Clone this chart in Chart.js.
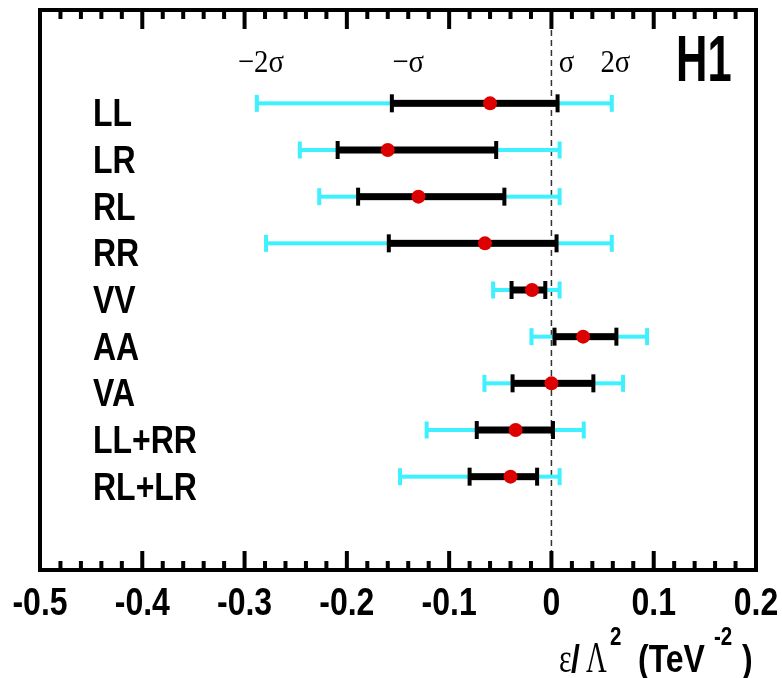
<!DOCTYPE html>
<html>
<head>
<meta charset="utf-8">
<script src="https://cdn.jsdelivr.net/npm/chart.js@4"></script>
<style>
  html, body { margin: 0; padding: 0; background: #fff; }
  #wrap { width: 782px; height: 678px; }
</style>
</head>
<body>
<div id="wrap"><canvas id="chart" width="782" height="678"></canvas></div>
<script>
// coupling types, top to bottom
const labels = ['LL', 'LR', 'RL', 'RR', 'VV', 'AA', 'VA', 'LL+RR', 'RL+LR'];
// central value of eps/Lambda^2 (TeV^-2)
const central = [-0.060, -0.160, -0.130, -0.065, -0.019, 0.031, 0.000, -0.035, -0.040];
// 1 sigma interval (black)
const lo1 = [-0.156, -0.209, -0.189, -0.159, -0.039, 0.003, -0.038, -0.073, -0.080];
const hi1 = [0.006, -0.054, -0.046, 0.005, -0.006, 0.0635, 0.041, 0.0015, -0.014];
// 2 sigma interval (cyan)
const lo2 = [-0.288, -0.246, -0.227, -0.279, -0.057, -0.0195, -0.0655, -0.122, -0.148];
const hi2 = [0.059, 0.008, 0.008, 0.059, 0.008, 0.0935, 0.070, 0.0316, 0.008];
// sigma annotations along the top
const sigmaText = ['\u22122\u03c3', '\u2212\u03c3', '\u03c3', '2\u03c3'];
const sigmaAt = [-0.284, -0.140, 0.0147, 0.0625];

const CYAN = '#3ff0ff';
const RED = '#dd0000';
const SANS = '"Liberation Sans", Arial, sans-serif';
const SERIF = '"Liberation Serif", "Times New Roman", serif';

function txt(ctx, s, x, y, font, sx, align) {
  ctx.save();
  ctx.font = font;
  ctx.fillStyle = '#000';
  ctx.textAlign = align || 'left';
  ctx.textBaseline = 'alphabetic';
  ctx.translate(x, y);
  ctx.scale(sx, 1);
  ctx.fillText(s, 0, 0);
  ctx.restore();
}

const errorBars = {
  id: 'errorBars',
  beforeDatasetsDraw(chart) {
    const { ctx, chartArea: a, scales: { x, y } } = chart;
    ctx.save();
    // dashed zero line
    ctx.strokeStyle = '#333';
    ctx.lineWidth = 1.5;
    ctx.setLineDash([6, 4]);
    ctx.beginPath();
    ctx.moveTo(x.getPixelForValue(0), a.top + 20);
    ctx.lineTo(x.getPixelForValue(0), a.bottom);
    ctx.stroke();
    ctx.setLineDash([]);

    const bar = (lo, hi, yy, color, lw, capH) => {
      const x0 = x.getPixelForValue(lo), x1 = x.getPixelForValue(hi);
      ctx.fillStyle = color;
      ctx.fillRect(x0, yy - lw / 2, x1 - x0, lw);
      ctx.fillRect(x0 - 2, yy - capH / 2, 4, capH);
      ctx.fillRect(x1 - 2, yy - capH / 2, 4, capH);
    };
    labels.forEach((lab, i) => {
      const yy = y.getPixelForValue(i + 2);
      bar(lo2[i], hi2[i], yy, CYAN, 4, 17);
      bar(lo1[i], hi1[i], yy, '#000', 7, 18);
    });
    ctx.restore();
  },
  afterDatasetsDraw(chart) {
    const { ctx, chartArea: a, scales: { x, y } } = chart;
    ctx.save();
    ctx.setLineDash([]);
    // frame
    ctx.strokeStyle = '#000';
    ctx.lineWidth = 4;
    ctx.strokeRect(a.left, a.top, a.right - a.left, a.bottom - a.top);
    // ticks top and bottom, minor every 0.02
    ctx.fillStyle = '#000';
    const x0 = -0.5;
    for (let k = 0; k <= 35; k++) {
      const px = x.getPixelForValue(x0 + k * 0.02);
      const len = k % 5 === 0 ? 19 : 9;
      ctx.fillRect(px - 2, a.bottom - len, 4, len);
      ctx.fillRect(px - 2, a.top, 4, len);
    }
    // tick labels
    x.ticks.forEach(t => {
      const v = Math.round(t.value * 10) / 10;
      const s = v === 0 ? '0' : String(v);
      txt(ctx, s, x.getPixelForValue(t.value), a.bottom + 45, 'bold 39px ' + SANS, 0.82, 'center');
    });
    // row labels
    labels.forEach((lab, i) => {
      txt(ctx, lab, a.left + 53, y.getPixelForValue(i + 2) + 23, 'bold 39px ' + SANS, 0.82, 'left');
    });
    // sigma annotations
    sigmaText.forEach((s, i) => {
      txt(ctx, s, x.getPixelForValue(sigmaAt[i]), a.top + 62, '32px ' + SERIF, 0.9, 'center');
    });
    // H1 logo
    txt(ctx, 'H1', a.right - 80, a.top + 71, 'bold 64px ' + SANS, 0.68, 'left');
    // axis title  eps/Lambda^2 (TeV^-2)
    const r = a.right, b = a.bottom + 102;
    txt(ctx, '\u03b5', r - 197, b, '40px ' + SERIF, 0.75, 'left');
    txt(ctx, '/', r - 185, b, 'bold 39px ' + SANS, 0.82, 'left');
    txt(ctx, '\u039b', r - 170, b, '44px ' + SERIF, 0.65, 'left');
    txt(ctx, '2', r - 146, b - 27, 'bold 25px ' + SANS, 0.82, 'left');
    txt(ctx, '(TeV', r - 118, b, 'bold 39px ' + SANS, 0.82, 'left');
    txt(ctx, '-2', r - 42, b - 27, 'bold 25px ' + SANS, 0.82, 'left');
    txt(ctx, ')', r - 14, b, 'bold 39px ' + SANS, 0.82, 'left');
    ctx.restore();
  }
};

new Chart(document.getElementById('chart'), {
  type: 'scatter',
  data: {
    datasets: [{
      label: 'central',
      data: central.map((v, i) => ({ x: v, y: i + 2 })),
      backgroundColor: RED,
      borderWidth: 0,
      pointRadius: 7,
      pointHoverRadius: 7
    }]
  },
  options: {
    responsive: false,
    animation: false,
    layout: { padding: { left: 40, right: 26, top: 10, bottom: 108 } },
    plugins: { legend: { display: false }, tooltip: { enabled: false } },
    scales: {
      x: { type: 'linear', min: -0.5, max: 0.2, display: false, ticks: { stepSize: 0.1 } },
      y: { type: 'linear', min: 0, max: 12, reverse: true, display: false }
    }
  },
  plugins: [errorBars]
});
</script>
</body>
</html>
